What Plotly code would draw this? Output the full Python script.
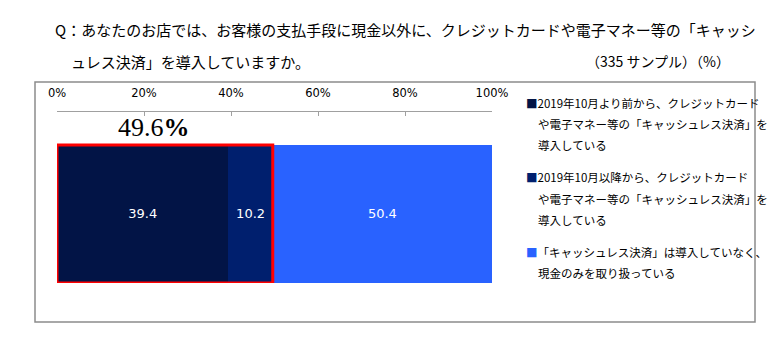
import plotly.graph_objects as go

# ---- data ----
category = ["回答"]
series_names = [
    "2019年10月より前から、クレジットカードや電子マネー等の「キャッシュレス決済」を導入している",
    "2019年10月以降から、クレジットカードや電子マネー等の「キャッシュレス決済」を導入している",
    "「キャッシュレス決済」は導入していなく、現金のみを取り扱っている",
]
series_values = [39.4, 10.2, 50.4]
legend_lines = [
    ["2019年10月より前から、クレジットカード", "や電子マネー等の「キャッシュレス決済」を", "導入している"],
    ["2019年10月以降から、クレジットカード", "や電子マネー等の「キャッシュレス決済」を", "導入している"],
    ["「キャッシュレス決済」は導入していなく、", "現金のみを取り扱っている"],
]
tick_values = [0, 20, 40, 60, 80, 100]
tick_labels = ["0%", "20%", "40%", "60%", "80%", "100%"]
title_line1 = "Q：あなたのお店では、お客様の支払手段に現金以外に、クレジットカードや電子マネー等の「キャッシ"
title_line2 = "ュレス決済」を導入していますか。"
sample_note = "（335 サンプル）（%）"

# ---- styles ----
colors = ["#021446", "#001F6E", "#2962FF"]
W, H = 783, 349
JP = "Noto Sans CJK JP"

def px(x):
    return x / W

def py(y):
    return 1 - y / H

fig = go.Figure()
for name, val, col in zip(series_names, series_values, colors):
    fig.add_trace(go.Bar(
        y=category, x=[val], name=name, orientation="h",
        marker=dict(color=col, line=dict(width=0)),
        width=1,
        text=[f"{val:.1f}"], textposition="inside", insidetextanchor="middle",
        textangle=0,
        textfont=dict(color="white", size=13, family="DejaVu Sans"),
        showlegend=False, hoverinfo="x+name",
    ))

adopted = round(series_values[0] + series_values[1], 1)

fig.update_layout(
    width=W, height=H,
    margin=dict(l=0, r=0, t=0, b=0, autoexpand=False),
    paper_bgcolor="white", plot_bgcolor="white",
    barmode="stack",
    showlegend=False,
    xaxis=dict(
        side="top", range=[0, 100], domain=[px(57), px(492)],
        tickmode="array", tickvals=tick_values, ticktext=tick_labels,
        showline=True, linecolor="#A0A0A0", linewidth=1,
        ticks="inside", ticklen=4, tickcolor="#A0A0A0",
        showgrid=False, zeroline=False, automargin=False,
        tickfont=dict(family="DejaVu Sans", size=11.5, color="#000"),
        ticklabelstandoff=9,
    ),
    yaxis=dict(
        domain=[py(283), py(112)], range=[-0.5, 0.739], visible=False,
        automargin=False,
    ),
    font=dict(family=JP),
)

shapes = [
    # outer frame
    dict(type="rect", xref="paper", yref="paper",
         x0=px(35), x1=px(755), y0=py(322), y1=py(82),
         line=dict(color="#8C8C8C", width=1.5), fillcolor="rgba(0,0,0,0)"),
    # red box around adopted share
    dict(type="rect", xref="x", yref="y",
         x0=0, x1=adopted, y0=-0.5, y1=0.5,
         line=dict(color="#FF0000", width=3), fillcolor="rgba(0,0,0,0)"),
]

annotations = [
    dict(xref="paper", yref="paper", x=px(53), y=py(29), xanchor="left", yanchor="middle",
         text=title_line1, showarrow=False, font=dict(family=JP, size=15, color="#000")),
    dict(xref="paper", yref="paper", x=px(69), y=py(62), xanchor="left", yanchor="middle",
         text=title_line2, showarrow=False, font=dict(family=JP, size=15, color="#000")),
    dict(xref="paper", yref="paper", x=px(658), y=py(61), xanchor="center", yanchor="middle",
         text=sample_note, showarrow=False, font=dict(family=JP, size=14, color="#000")),
    dict(xref="x", yref="paper", x=adopted / 2, y=py(128), xanchor="center", yanchor="middle",
         xshift=-11,
         text=f"{adopted:.1f}<b>%</b>", showarrow=False,
         font=dict(family="Liberation Serif", size=26, color="#000")),
]

legend_y = [[103, 124, 145], [177, 199, 220], [252, 273]]
for lines, ys, col in zip(legend_lines, legend_y, colors):
    for i, (line, yy) in enumerate(zip(lines, ys)):
        if i == 0:
            txt = f'<span style="color:{col}">■</span>{line}'
            xx = 524
        else:
            txt = line
            xx = 536
        annotations.append(dict(
            xref="paper", yref="paper", x=px(xx), y=py(yy),
            xanchor="left", yanchor="middle", text=txt, showarrow=False,
            font=dict(family=JP, size=11.5, color="#000"),
        ))

fig.update_layout(shapes=shapes, annotations=annotations)
fig.write_html("out.html")
